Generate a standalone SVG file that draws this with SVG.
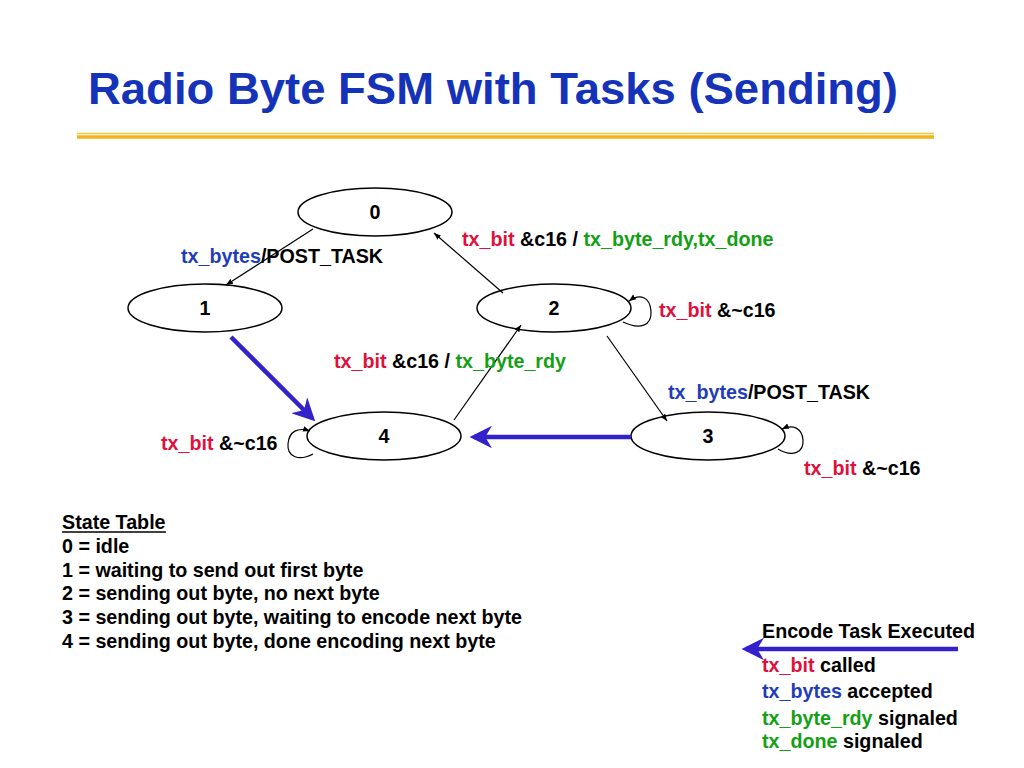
<svg xmlns="http://www.w3.org/2000/svg" width="1024" height="768" viewBox="0 0 1024 768">
<style>
text{font-family:"Liberation Sans",Arial,sans-serif;font-weight:bold;fill:#000}
.lbl{font-size:19.7px}
.r{fill:#e0103c}.b{fill:#1f3db8}.g{fill:#14a014}
.node ellipse{fill:#fff;stroke:#000;stroke-width:1.5}
.node text{font-size:19.7px;text-anchor:middle}
.thin{fill:none;stroke:#000;stroke-width:1.2;marker-end:url(#ah)}
.thick{fill:none;stroke:#3322cc;stroke-width:4.5;marker-end:url(#bh)}
</style>
<defs>
<marker id="ah" viewBox="0 0 10 10" refX="10" refY="5" markerWidth="7" markerHeight="7" markerUnits="userSpaceOnUse" orient="auto"><path d="M0,1 L10,5 L0,9 z" fill="#000"/></marker>
<marker id="bh" viewBox="0 0 10 10" refX="8" refY="5" markerWidth="5" markerHeight="5" orient="auto"><path d="M0,0 L10,5 L0,10 L3,5 z" fill="#3322cc"/></marker>
</defs>
<rect width="1024" height="768" fill="#fff"/>
<text x="88" y="104" font-size="44" style="fill:#1533b8" textLength="810" lengthAdjust="spacingAndGlyphs">Radio Byte FSM with Tasks (Sending)</text>
<line x1="77" y1="133.5" x2="934" y2="133.5" stroke="#f5c842" stroke-width="1.5"/>
<line x1="77" y1="137" x2="934" y2="137" stroke="#f0b31c" stroke-width="3.5"/>

<g id="node0" class="node"><ellipse cx="375" cy="212" rx="77" ry="24"/><text x="375" y="219">0</text></g>
<g id="node1" class="node"><ellipse cx="205" cy="308" rx="77" ry="24"/><text x="205" y="315">1</text></g>
<g id="node2" class="node"><ellipse cx="554" cy="308" rx="77" ry="24"/><text x="554" y="315">2</text></g>
<g id="node3" class="node"><ellipse cx="708" cy="436" rx="77" ry="24"/><text x="708" y="443">3</text></g>
<g id="node4" class="node"><ellipse cx="384" cy="436" rx="77" ry="24"/><text x="384" y="443">4</text></g>

<g id="connectors">
<line class="thin" x1="313" y1="229" x2="226" y2="285"/>
<line class="thin" x1="503" y1="293" x2="434" y2="233"/>
<line class="thin" x1="454" y1="420" x2="521" y2="325"/>
<line class="thin" x1="607" y1="336" x2="667" y2="421"/>
<path class="thin" d="M623,322 C640,330 652,326 651,311 C650,297 640,293 629,301"/>
<path class="thin" d="M778,449 C793,458 804,452 803,440 C802,428 793,424 782,429"/>
<path class="thin" d="M313,454 C298,462 287,456 288,444 C289,431 298,427 310,431"/>
<line class="thick" x1="231" y1="337" x2="312" y2="418"/>
<line class="thick" x1="631" y1="437" x2="474" y2="437"/>
<line class="thick" x1="958" y1="649" x2="746" y2="649"/>
</g>

<g id="labels">
<text class="lbl" x="181" y="263"><tspan class="b">tx_bytes</tspan>/POST_TASK</text>
<text class="lbl" x="462" y="246"><tspan class="r">tx_bit</tspan> &amp;c16 / <tspan class="g">tx_byte_rdy,tx_done</tspan></text>
<text class="lbl" x="659" y="317"><tspan class="r">tx_bit</tspan> &amp;~c16</text>
<text class="lbl" x="334" y="368"><tspan class="r">tx_bit</tspan> &amp;c16 / <tspan class="g">tx_byte_rdy</tspan></text>
<text class="lbl" x="668" y="399"><tspan class="b">tx_bytes</tspan>/POST_TASK</text>
<text class="lbl" x="161" y="450"><tspan class="r">tx_bit</tspan> &amp;~c16</text>
<text class="lbl" x="804" y="475"><tspan class="r">tx_bit</tspan> &amp;~c16</text>
</g>

<g id="state-table">
<text class="lbl" x="62" y="529">State Table</text>
<line x1="62" y1="532" x2="166" y2="532" stroke="#000" stroke-width="1.5"/>
<text class="lbl" x="62" y="553">0 = idle</text>
<text class="lbl" x="62" y="577">1 = waiting to send out first byte</text>
<text class="lbl" x="62" y="600">2 = sending out byte, no next byte</text>
<text class="lbl" x="62" y="624">3 = sending out byte, waiting to encode next byte</text>
<text class="lbl" x="62" y="648">4 = sending out byte, done encoding next byte</text>
</g>

<g id="legend">
<text class="lbl" x="762" y="638">Encode Task Executed</text>
<text class="lbl" x="762" y="672"><tspan class="r">tx_bit</tspan> called</text>
<text class="lbl" x="762" y="698"><tspan class="b">tx_bytes</tspan> accepted</text>
<text class="lbl" x="762" y="725"><tspan class="g">tx_byte_rdy</tspan> signaled</text>
<text class="lbl" x="762" y="748"><tspan class="g">tx_done</tspan> signaled</text>
</g>
</svg>
